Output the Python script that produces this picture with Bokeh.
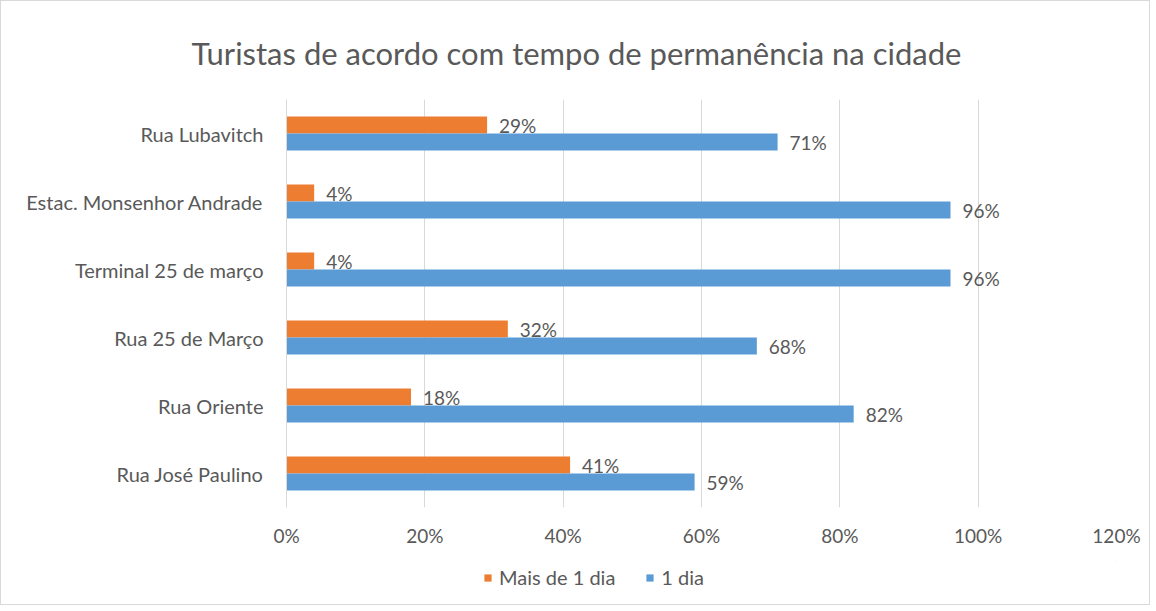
from bokeh.plotting import figure
from bokeh.layouts import column
from bokeh.models import ColumnDataSource, LabelSet, Legend, LegendItem, NumeralTickFormatter, Range1d, FactorRange
from bokeh.core.properties import value
from bokeh.transform import dodge
from bokeh.embed import file_html
from bokeh.resources import INLINE

title = "Turistas de acordo com tempo de permanência na cidade"
categories = ["Rua Lubavitch", "Estac. Monsenhor Andrade", "Terminal 25 de março",
              "Rua 25 de Março", "Rua Oriente", "Rua José Paulino"]
mais_de_1_dia = [0.29, 0.04, 0.04, 0.32, 0.18, 0.41]
um_dia = [0.71, 0.96, 0.96, 0.68, 0.82, 0.59]
series_names = ["Mais de 1 dia", "1 dia"]
x_ticks = [0, 0.2, 0.4, 0.6, 0.8, 1.0, 1.2]

ORANGE = "#ED7D31"
BLUE = "#5B9BD5"
TEXT = "#595959"
FONT = "Lato"
FS = "19px"

src = ColumnDataSource(dict(
    cat=categories,
    a=mais_de_1_dia,
    b=um_dia,
    la=[f"{round(v*100)}%" for v in mais_de_1_dia],
    lb=[f"{round(v*100)}%" for v in um_dia],
))

p = figure(width=1148, height=560, y_range=FactorRange(*categories[::-1]),
           x_range=Range1d(0, 1.2), output_backend="svg", toolbar_location=None,
           min_border_left=285, min_border_right=33, min_border_top=98, min_border_bottom=54)

p.title.text = title
p.title.align = "left"
p.title.offset = -95
p.title.standoff = 56
p.title.text_font = FONT
p.title.text_font_size = "31px"
p.title.text_font_style = "normal"
p.title.text_color = TEXT

ra = p.hbar(y=dodge("cat", 0.125, range=p.y_range), right="a", left=0, height=0.25,
            source=src, color=ORANGE, line_color=None)
rb = p.hbar(y=dodge("cat", -0.125, range=p.y_range), right="b", left=0, height=0.25,
            source=src, color=BLUE, line_color=None)

for col, lab, off in (("a", "la", 0.125), ("b", "lb", -0.125)):
    ls = LabelSet(x=col, y=dodge("cat", off, range=p.y_range), text=lab, source=src,
                  x_offset=12, text_baseline="middle", text_font_size=FS,
                  text_color=TEXT, text_font=value(FONT))
    p.add_layout(ls)

p.xaxis.ticker = x_ticks
p.xaxis.formatter = NumeralTickFormatter(format="0%")
p.xaxis.axis_line_color = None
p.xaxis.major_tick_line_color = None
p.xaxis.minor_tick_line_color = None
p.xaxis.major_label_standoff = 10
p.yaxis.axis_line_color = "#D9D9D9"
p.yaxis.major_tick_line_color = None
p.yaxis.minor_tick_line_color = None
p.yaxis.major_label_standoff = 17
for ax in (p.xaxis[0], p.yaxis[0]):
    ax.major_label_text_font = FONT
    ax.major_label_text_color = TEXT
p.xaxis.major_label_text_font_size = FS
p.yaxis.major_label_text_font_size = "20px"

p.xgrid.grid_line_color = "#D9D9D9"
p.ygrid.grid_line_color = None
p.outline_line_color = None

# legend strip below the chart (its frame is aligned with the chart's frame)
lg = figure(width=1148, height=43, x_range=Range1d(0, 1), y_range=Range1d(0, 1),
            output_backend="svg", toolbar_location=None,
            min_border_left=0, min_border_right=0, min_border_top=0, min_border_bottom=0)
lg.axis.visible = False
lg.grid.visible = False
lg.outline_line_color = None
la_r = lg.hbar(y=[5], right=[6], left=[5], height=0.5, color=ORANGE, line_color=None)
lb_r = lg.hbar(y=[5], right=[6], left=[5], height=0.5, color=BLUE, line_color=None)
legend = Legend(items=[LegendItem(label=series_names[0], renderers=[la_r]),
                       LegendItem(label=series_names[1], renderers=[lb_r])],
                orientation="horizontal", location=(197, 15),
                label_text_font=FONT, label_text_font_size="20px", label_text_color=TEXT,
                glyph_width=9, glyph_height=9, spacing=30, label_standoff=7,
                padding=0, margin=0, border_line_color=None, background_fill_alpha=0)
lg.add_layout(legend)

layout = column(p, lg, spacing=0, styles={"border": "1px solid #D9D9D9"})
open("out.html", "w").write(file_html(layout, INLINE))
